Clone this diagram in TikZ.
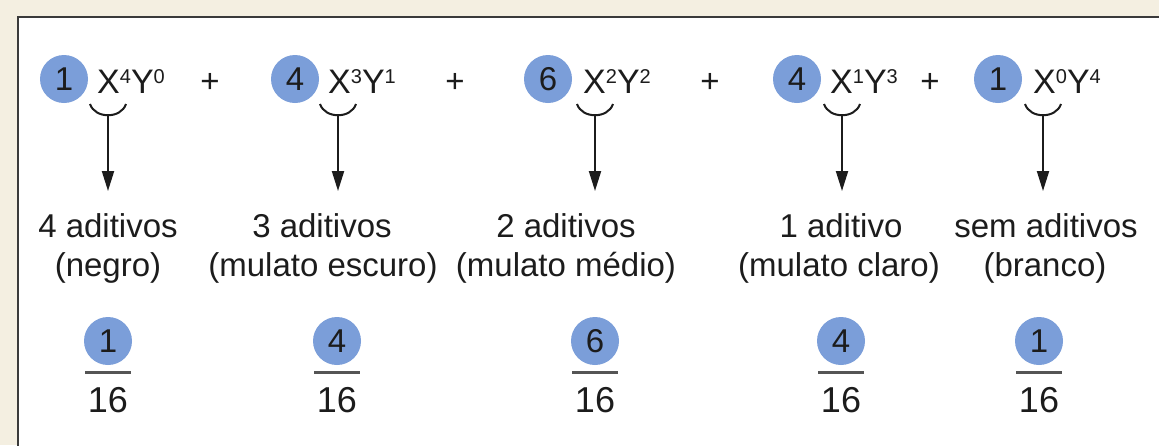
\documentclass[tikz,border=0pt]{standalone}
\usepackage{fontspec}
\setmainfont{Liberation Sans}
\usetikzlibrary{arrows.meta}
\definecolor{beige}{HTML}{F4EFE1}
\definecolor{framec}{HTML}{3A3A3A}
\definecolor{ballc}{HTML}{7B9ED9}
\definecolor{inkc}{HTML}{1C1C1C}
\definecolor{barc}{HTML}{555555}
\newcommand\spx[1]{\raisebox{10pt}{\fontsize{20}{20}\selectfont #1}}
\tikzset{
  ball/.style={circle,fill=ballc,minimum size=48pt,inner sep=0pt,text=inkc,font=\fontsize{33}{33}\selectfont},
  term/.style={anchor=base west,inner sep=0pt,text=inkc,font=\fontsize{34}{34}\selectfont},
  plusc/.style={anchor=base,inner sep=0pt,text=inkc,font=\fontsize{33}{33}\selectfont},
  lab/.style={anchor=base,inner sep=0pt,text=inkc,font=\fontsize{33}{33}\selectfont},
  den/.style={anchor=base,inner sep=0pt,text=inkc,font=\fontsize{36}{36}\selectfont},
  brc/.style={draw=inkc,line width=2pt},
  arr/.style={draw=inkc,line width=2pt,-{Triangle[length=20pt,width=12pt]}},
  fbar/.style={draw=barc,line width=3pt}
}
\begin{document}
\begin{tikzpicture}[x=1pt,y=-1pt]
\useasboundingbox (0,0) rectangle (1159,445);
\clip (0,0) rectangle (1159,445);
\fill[beige] (0,0) rectangle (1159,445);
\draw[draw=framec,line width=2.5pt,fill=white] (18,17) rectangle (1180,470);

% row 1: terms
\node[ball] (n1) at (64,79) {1};
\node[term] (t1) at (97,93) {X\spx{4}Y\spx{0}};
\node[plusc] (p1) at (210,92) {+};
\node[ball] (n2) at (295,79) {4};
\node[term] (t2) at (328,93) {X\spx{3}Y\spx{1}};
\node[plusc] (p2) at (455,92) {+};
\node[ball] (n3) at (548,79) {6};
\node[term] (t3) at (583,93) {X\spx{2}Y\spx{2}};
\node[plusc] (p3) at (710,92) {+};
\node[ball] (n4) at (797,79) {4};
\node[term] (t4) at (830,93) {X\spx{1}Y\spx{3}};
\node[plusc] (p4) at (930,92) {+};
\node[ball] (n5) at (998,79) {1};
\node[term] (t5) at (1033,93) {X\spx{0}Y\spx{4}};

% braces and arrows
\foreach \i/\x in {1/108,2/338,3/595,4/842,5/1043}{
  \draw[brc] (\x-18,104) .. controls (\x-13,119) and (\x+13,119) .. (\x+18,104);
  \coordinate (s\i) at (\x,115);
  \coordinate (e\i) at (\x,191);
  \draw[arr] (s\i) -- (e\i);
}

% row 2: labels
\node[lab] (la1) at (108,237) {4 aditivos};
\node[lab] (lb1) at (108,276) {(negro)};
\node[lab] (la2) at (322,237) {3 aditivos};
\node[lab] (lb2) at (323,276) {(mulato escuro)};
\node[lab] (la3) at (566,237) {2 aditivos};
\node[lab] (lb3) at (566,276) {(mulato médio)};
\node[lab] (la4) at (841,237) {1 aditivo};
\node[lab] (lb4) at (839,276) {(mulato claro)};
\node[lab] (la5) at (1046,237) {sem aditivos};
\node[lab] (lb5) at (1045,276) {(branco)};

% row 3: fractions
\foreach \i/\x/\n in {1/108/1,2/337/4,3/595/6,4/841/4,5/1039/1}{
  \node[ball] (f\i) at (\x,341) {\n};
  \coordinate (bl\i) at (\x-23,372);
  \coordinate (br\i) at (\x+23,372);
  \draw[fbar] (bl\i) -- (br\i);
  \node[den] (d\i) at (\x,412) {16};
}
\end{tikzpicture}
\end{document}
